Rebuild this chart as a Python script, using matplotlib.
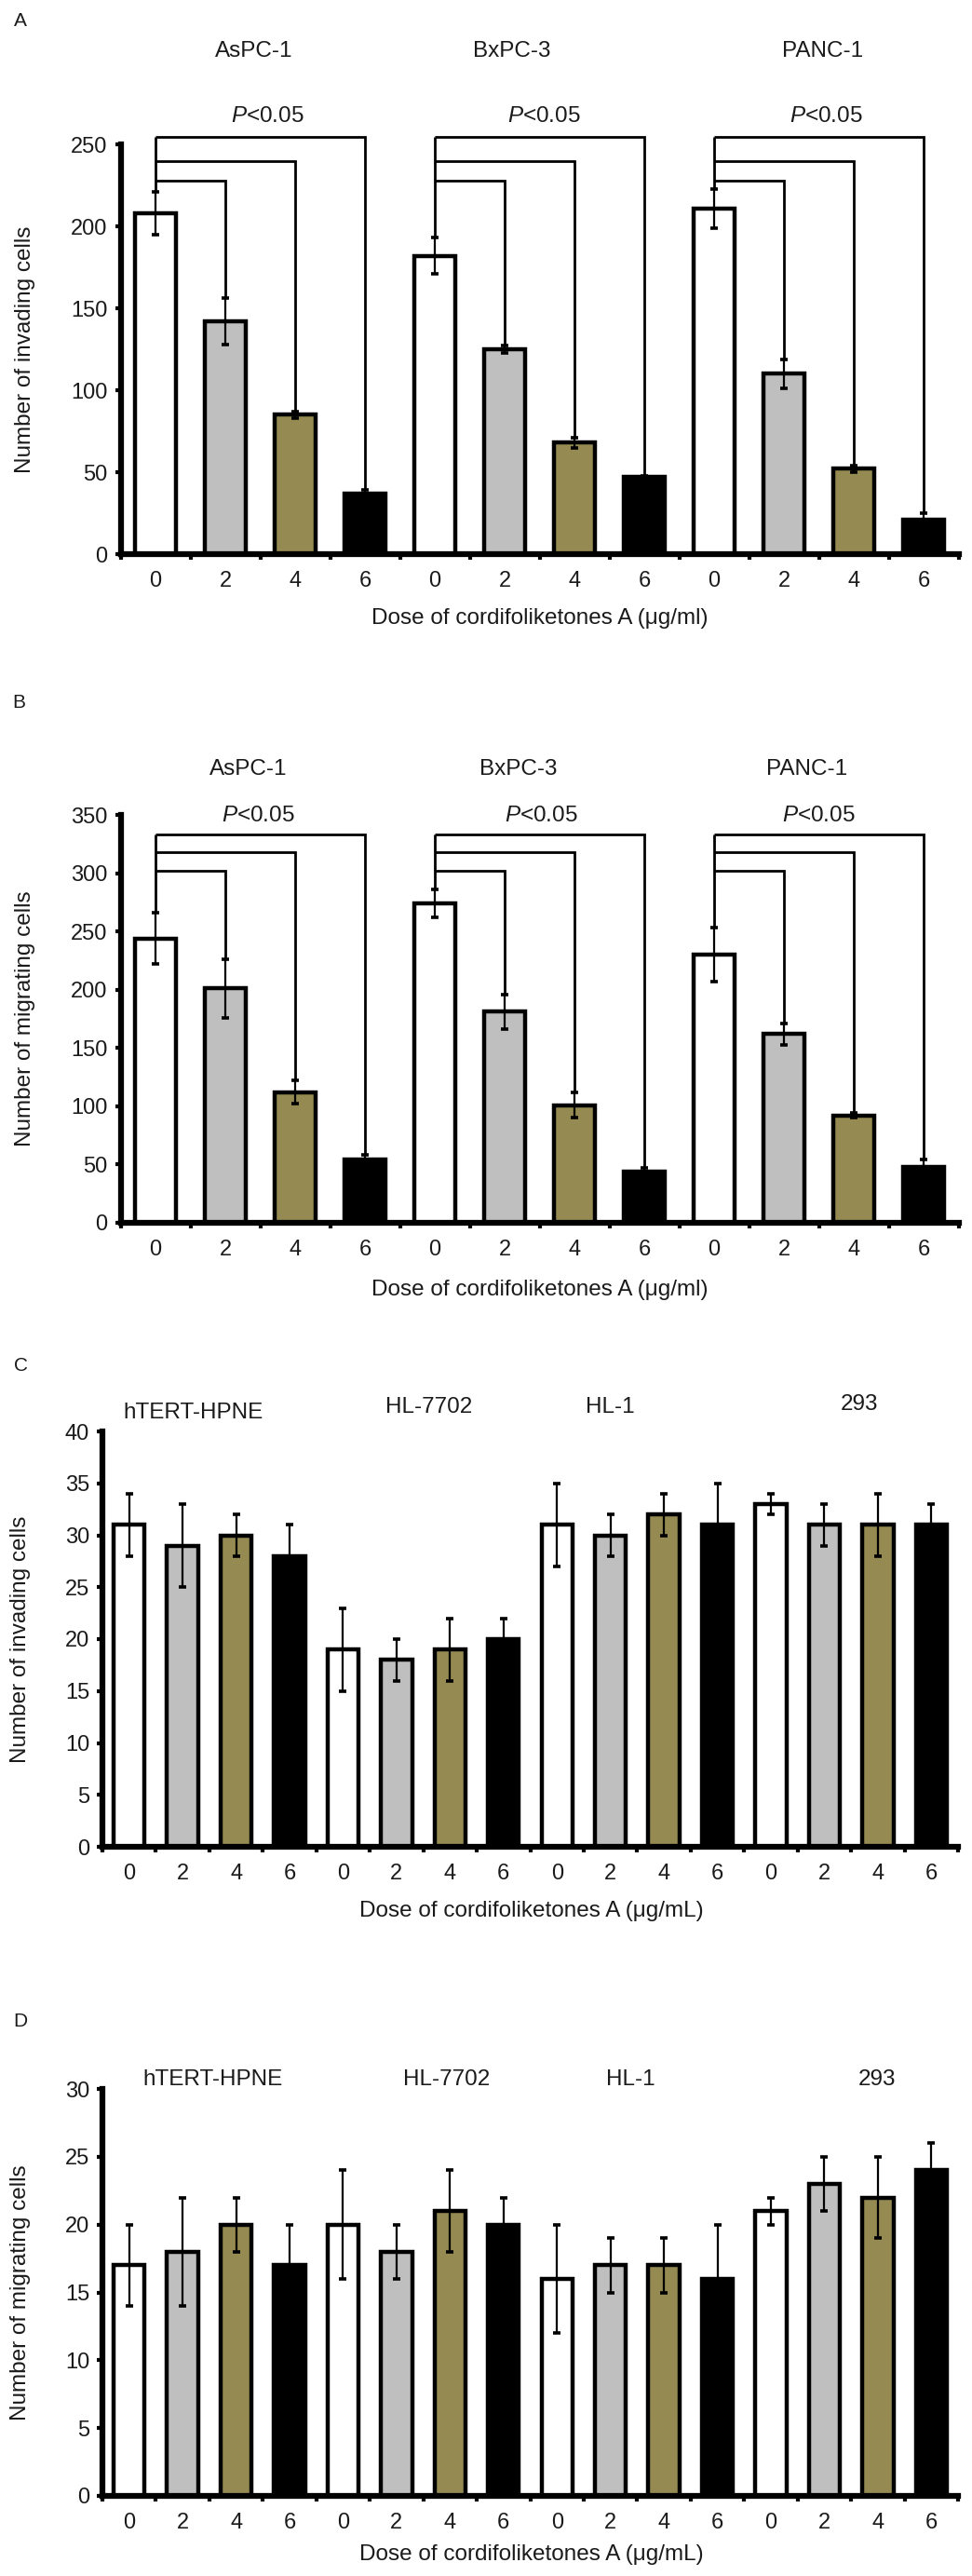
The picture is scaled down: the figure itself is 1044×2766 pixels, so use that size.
import matplotlib
matplotlib.use("Agg")
import matplotlib.pyplot as plt
import numpy as np

plt.rcParams['font.family'] = ['Liberation Sans', 'DejaVu Sans']
plt.rcParams['mathtext.fontset'] = 'custom'
plt.rcParams['mathtext.rm'] = 'Liberation Sans'
plt.rcParams['mathtext.it'] = 'Liberation Sans:italic'

# ---------------- data ----------------
doses = ['0', '2', '4', '6']
cancer_lines = ['AsPC-1', 'BxPC-3', 'PANC-1']
normal_lines = ['hTERT-HPNE', 'HL-7702', 'HL-1', '293']

inv_cancer_mean = [208, 142, 85, 37, 182, 125, 68, 47, 211, 110, 52, 21]
inv_cancer_err = [13, 14, 2, 2, 11, 2, 3, 1, 12, 9, 2, 4]

mig_cancer_mean = [244, 201, 112, 54, 274, 181, 101, 44, 230, 162, 92, 48]
mig_cancer_err = [22, 25, 10, 4, 12, 15, 11, 3, 23, 9, 2, 6]

inv_normal_mean = [31, 29, 30, 28, 19, 18, 19, 20, 31, 30, 32, 31, 33, 31, 31, 31]
inv_normal_err = [3, 4, 2, 3, 4, 2, 3, 2, 4, 2, 2, 4, 1, 2, 3, 2]

mig_normal_mean = [17, 18, 20, 17, 20, 18, 21, 20, 16, 17, 17, 16, 21, 23, 22, 24]
mig_normal_err = [3, 4, 2, 3, 4, 2, 3, 2, 4, 2, 2, 4, 1, 2, 3, 2]

sig_label = r'$\mathit{P}$<0.05'

# ---------------- style / layout ----------------
fills = ['white', '#BFBFBF', '#948A52', 'black']
W, H = 1044, 2766
TXT = '#1a1a1a'
FS = 17.5

fig = plt.figure(figsize=(W / 100, H / 100), dpi=100)


def frac_axes(left_px, right_px, top_px, bottom_px):
    return fig.add_axes([left_px / W, 1 - bottom_px / H,
                         (right_px - left_px) / W, (bottom_px - top_px) / H])


def draw_panel(ax, means, errs, ymax, ystep, ylabel, groups, group_x, group_y,
               brackets=None, p_x=None, p_y=None):
    n = len(means)
    x = np.arange(n)
    colors = [fills[i % 4] for i in range(n)]
    ax.bar(x, means, width=0.58, color=colors, edgecolor='black',
           linewidth=3.2, zorder=2)
    ax.errorbar(x, means, yerr=errs, fmt='none', ecolor='black',
                elinewidth=1.6, capsize=2.6, capthick=2.6, zorder=3)
    ax.set_xlim(-0.5, n - 0.5)
    ax.set_ylim(0, ymax)
    for s in ['top', 'right']:
        ax.spines[s].set_visible(False)
    for s in ['left', 'bottom']:
        ax.spines[s].set_linewidth(4.5)
    ax.set_yticks(np.arange(0, ymax + 0.1, ystep))
    ax.tick_params(axis='y', length=4, width=3, pad=6, labelsize=FS - 0.5,
                   labelcolor=TXT)
    ax.set_xticks(np.arange(-0.5, n, 1.0))
    ax.set_xticklabels([])
    ax.tick_params(axis='x', which='major', length=4, width=3)
    ax.set_xticks(x, minor=True)
    ax.set_xticklabels([doses[i % 4] for i in range(n)], minor=True)
    ax.tick_params(axis='x', which='minor', length=0, pad=13,
                   labelsize=FS - 0.5, labelcolor=TXT)
    ax.set_ylabel(ylabel, fontsize=FS, color=TXT)
    for name, gx, gy in zip(groups, group_x, group_y):
        ax.text(gx, gy, name, ha='center', va='center', fontsize=FS,
                color=TXT, clip_on=False)
    if brackets is not None:
        tops = [m + e for m, e in zip(means, errs)]
        for g in range(len(groups)):
            b0 = 4 * g
            ax.plot([b0, b0], [tops[b0], brackets[-1]], color='black',
                    lw=2.0, zorder=4, clip_on=False, solid_capstyle='butt')
            for k, lev in zip(range(1, 4), brackets):
                bk = b0 + k
                ax.plot([b0, bk, bk], [lev, lev, tops[bk]], color='black',
                        lw=2.0, zorder=4, clip_on=False,
                        solid_joinstyle='miter', solid_capstyle='butt')
            ax.text(p_x[g], p_y, sig_label, ha='center', va='center',
                    fontsize=FS, color=TXT, clip_on=False)


# Panel A
axA = frac_axes(129.5, 1029.5, 155, 595)
draw_panel(axA, inv_cancer_mean, inv_cancer_err, 250, 50,
           'Number of invading cells', cancer_lines,
           [1.41, 5.1, 9.55], [307, 307, 307],
           brackets=[228, 240, 254.5], p_x=[1.6, 5.57, 9.6], p_y=267)
axA.yaxis.set_label_coords((38 - 129.5) / 900, 0.5)

# Panel B
axB = frac_axes(129.5, 1029.5, 875, 1313)
draw_panel(axB, mig_cancer_mean, mig_cancer_err, 350, 50,
           'Number of migrating cells', cancer_lines,
           [1.33, 5.2, 9.33], [389, 389, 389],
           brackets=[302, 318, 333], p_x=[1.47, 5.52, 9.5], p_y=349)
axB.yaxis.set_label_coords((38 - 129.5) / 900, 0.5)

# Panel C
axC = frac_axes(110, 1029, 1537, 1983)
draw_panel(axC, inv_normal_mean, inv_normal_err, 40, 5,
           'Number of invading cells', normal_lines,
           [1.2, 5.6, 9.0, 13.66], [41.8, 42.3, 42.3, 42.6])
axC.yaxis.set_label_coords((33 - 110) / 919, 0.5)

# Panel D
axD = frac_axes(110, 1029, 2243, 2680)
draw_panel(axD, mig_normal_mean, mig_normal_err, 30, 5,
           'Number of migrating cells', normal_lines,
           [1.57, 5.94, 9.37, 13.99], [30.7, 30.7, 30.7, 30.7])
axD.yaxis.set_label_coords((33 - 110) / 919, 0.5)

# x labels
for xp, yp, t in [(580, 664, 'Dose of cordifoliketones A (\u03bcg/ml)'),
                  (580, 1385, 'Dose of cordifoliketones A (\u03bcg/ml)'),
                  (571, 2052, 'Dose of cordifoliketones A (\u03bcg/mL)'),
                  (571, 2743, 'Dose of cordifoliketones A (\u03bcg/mL)')]:
    fig.text(xp / W, 1 - yp / H, t, ha='center', va='center',
             fontsize=FS, color=TXT)

# panel letters
for xp, yp, t in [(22, 22, 'A'), (20, 754, 'B'), (22, 1467, 'C'), (22, 2170, 'D')]:
    fig.text(xp / W, 1 - yp / H, t, ha='center', va='center',
             fontsize=15, color=TXT)

fig.savefig('out.png', dpi=100)
